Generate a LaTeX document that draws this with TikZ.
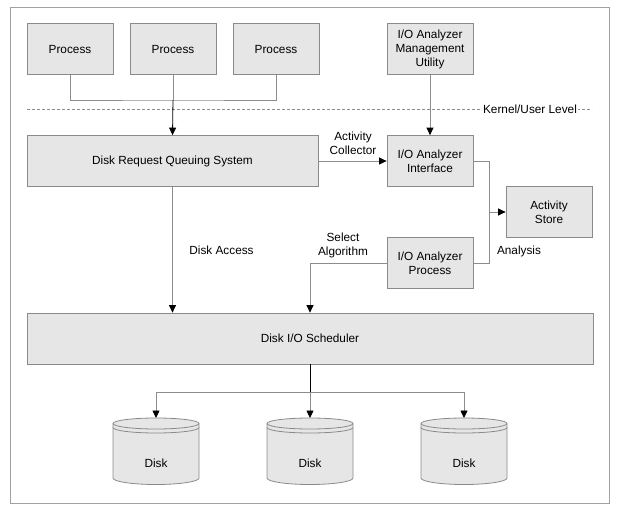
\documentclass[tikz,border=0pt]{standalone}
\usepackage{fontspec}
\setmainfont{Liberation Sans}
\usetikzlibrary{arrows.meta}
\definecolor{boxfill}{HTML}{E6E6E6}
\definecolor{boxline}{HTML}{8A8A8A}
\definecolor{wire}{HTML}{8C8C8C}
\begin{document}
\begin{tikzpicture}[x=1pt,y=1pt,
    box/.style={draw=boxline,fill=boxfill,line width=0.8pt,minimum width=86pt,minimum height=51pt,inner sep=0pt,align=center,font=\fontsize{11.8}{14}\selectfont},
    lbl/.style={align=center,inner sep=0pt,font=\fontsize{11.8}{14}\selectfont},
    link/.style={draw=wire,line width=0.8pt},
    arrow/.style={link,-{Triangle[length=7.5pt,width=7pt,color=black]}},
    diskbody/.style={draw=boxline,fill=boxfill,line width=0.8pt}]
        \useasboundingbox (0,0) rectangle (625,-507);
        \draw[draw=boxline!80,line width=0.8pt] (10,-7) rectangle (609,-503);
        
        % user level
        \node[box] (p1) at (70,-49) {Process};
        \node[box] (p2) at (173,-49) {Process};
        \node[box] (p3) at (276,-49) {Process};
        \node[box] (mgmt) at (430,-49) {I/O Analyzer\\Management\\Utility};
        \coordinate (join) at (173,-100);
        \draw[link] (p1.south) |- (join) -| (p3.south);
        \draw[link] (p2.south) -- (join);
        
        % kernel/user boundary
        \draw[draw=wire,line width=0.6pt,dash pattern=on 3pt off 2pt] (27,-109)--(592,-109);
        \node[lbl,fill=white,inner xsep=1pt] (kul) at (530,-109) {Kernel/User Level};
        
        % kernel level
        \node[box,minimum width=291pt] (drqs) at (172.5,-161) {Disk Request Queuing System};
        \node[box] (iface) at (430,-161) {I/O Analyzer\\Interface};
        \node[box] (store) at (549,-212) {Activity\\Store};
        \node[box] (aproc) at (430,-263) {I/O Analyzer\\Process};
        \node[box,minimum width=566pt] (sched) at (310,-338.5) {Disk I/O Scheduler};
        \draw[arrow,draw=black] (join) -- (drqs.north);
        \draw[arrow] (mgmt.south) -- (iface.north);
        \draw[arrow] (drqs.east) -- (iface.west);
        \node[lbl] (collect) at (353,-143) {Activity\\Collector};
        \coordinate (split) at (489,-212);
        \draw[link] (iface.east) -| (split);
        \draw[link] (aproc.east) -| (split);
        \draw[arrow] (split) -- (store.west);
        \node[lbl] (analysis) at (519,-251) {Analysis};
        \draw[arrow] (aproc.west) -| (sched.north);
        \node[lbl] (select) at (343,-245) {Select\\Algorithm};
        \draw[arrow] (drqs.south) -- (drqs.south |- sched.north);
        \node[lbl] (access) at (221.5,-250) {Disk Access};
        
        % disks
        \filldraw[diskbody] (113,-423.5) -- (113,-478) arc[start angle=180,end angle=360,x radius=43,y radius=6.5] -- (199,-423.5) arc[start angle=0,end angle=180,x radius=43,y radius=5.5] -- cycle;
        \draw[diskbody,fill=none] (113,-423.5) arc[start angle=180,end angle=360,x radius=43,y radius=5.5];
        \draw[diskbody,fill=none] (113,-427.5) arc[start angle=180,end angle=360,x radius=43,y radius=5.5];
        \node[lbl] (d1) at (156,-463) {Disk};
        \coordinate (d1top) at (156,-418);
        
        \filldraw[diskbody] (267,-423.5) -- (267,-478) arc[start angle=180,end angle=360,x radius=43,y radius=6.5] -- (353,-423.5) arc[start angle=0,end angle=180,x radius=43,y radius=5.5] -- cycle;
        \draw[diskbody,fill=none] (267,-423.5) arc[start angle=180,end angle=360,x radius=43,y radius=5.5];
        \draw[diskbody,fill=none] (267,-427.5) arc[start angle=180,end angle=360,x radius=43,y radius=5.5];
        \node[lbl] (d2) at (310,-463) {Disk};
        \coordinate (d2top) at (310,-418);
        
        \filldraw[diskbody] (421,-423.5) -- (421,-478) arc[start angle=180,end angle=360,x radius=43,y radius=6.5] -- (507,-423.5) arc[start angle=0,end angle=180,x radius=43,y radius=5.5] -- cycle;
        \draw[diskbody,fill=none] (421,-423.5) arc[start angle=180,end angle=360,x radius=43,y radius=5.5];
        \draw[diskbody,fill=none] (421,-427.5) arc[start angle=180,end angle=360,x radius=43,y radius=5.5];
        \node[lbl] (d3) at (464,-463) {Disk};
        \coordinate (d3top) at (464,-418);
        
        \coordinate (fan) at (310,-392);
        \draw[link,draw=black] (sched.south) -- (fan);
        \draw[arrow] (fan) -| (d1top);
        \draw[arrow] (fan) -| (d3top);
        \draw[arrow] (fan) -- (d2top);
        \end{tikzpicture}
\end{document}
